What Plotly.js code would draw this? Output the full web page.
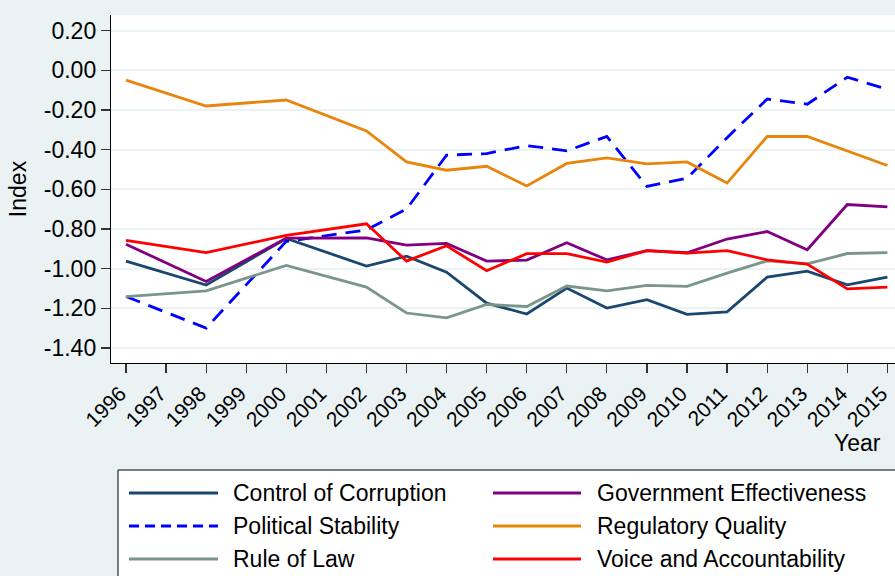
<!DOCTYPE html>
<html>
<head>
<meta charset="utf-8">
<script src="https://cdn.plot.ly/plotly-3.0.1.min.js"></script>
<style>html,body{margin:0;padding:0;background:#eaf2f3;}#chart{width:895px;height:576px;}</style>
</head>
<body>
<div id="chart"></div>
<script>
// ---- data ----
var years = [1996, 1998, 2000, 2002, 2003, 2004, 2005, 2006, 2007, 2008, 2009, 2010, 2011, 2012, 2013, 2014, 2015];
var controlOfCorruption = [-0.962, -1.083, -0.848, -0.987, -0.937, -1.018, -1.174, -1.229, -1.098, -1.199, -1.157, -1.231, -1.218, -1.043, -1.013, -1.082, -1.043];
var governmentEffectiveness = [-0.877, -1.065, -0.846, -0.845, -0.882, -0.873, -0.962, -0.957, -0.870, -0.956, -0.909, -0.920, -0.851, -0.813, -0.905, -0.677, -0.689];
var politicalStability = [-1.141, -1.300, -0.863, -0.805, -0.700, -0.428, -0.420, -0.380, -0.406, -0.334, -0.586, -0.544, -0.340, -0.145, -0.171, -0.035, -0.096];
var regulatoryQuality = [-0.050, -0.180, -0.150, -0.306, -0.462, -0.504, -0.484, -0.583, -0.470, -0.442, -0.472, -0.462, -0.569, -0.334, -0.334, -0.406, -0.480];
var ruleOfLaw = [-1.141, -1.112, -0.984, -1.093, -1.224, -1.248, -1.181, -1.191, -1.088, -1.112, -1.085, -1.090, -1.023, -0.961, -0.976, -0.924, -0.919];
var voiceAndAccountability = [-0.858, -0.919, -0.833, -0.774, -0.962, -0.885, -1.011, -0.925, -0.925, -0.967, -0.909, -0.922, -0.909, -0.956, -0.977, -1.102, -1.093];

var seriesNames = ["Control of Corruption", "Government Effectiveness", "Political Stability", "Regulatory Quality", "Rule of Law", "Voice and Accountability"];
var seriesValues = [controlOfCorruption, governmentEffectiveness, politicalStability, regulatoryQuality, ruleOfLaw, voiceAndAccountability];

var xTickVals = [1996,1997,1998,1999,2000,2001,2002,2003,2004,2005,2006,2007,2008,2009,2010,2011,2012,2013,2014,2015];
var xTickText = ["1996","1997","1998","1999","2000","2001","2002","2003","2004","2005","2006","2007","2008","2009","2010","2011","2012","2013","2014","2015"];
var yTickVals = [0.2, 0, -0.2, -0.4, -0.6, -0.8, -1.0, -1.2, -1.4];
var yTickText = ["0.20", "0.00", "-0.20", "-0.40", "-0.60", "-0.80", "-1.00", "-1.20", "-1.40"];

// ---- styles ----
var colors = ["#1a476f", "#800080", "#0000ff", "#e8850c", "#7a968a", "#ff0000"];
var dashes = ["solid", "solid", "15px,9px", "solid", "solid", "solid"];
var drawOrder = [0, 2, 4, 1, 3, 5];

var FONT = "Liberation Sans, Arial, Helvetica, sans-serif";
var FS = 23;
var W = 895, H = 576, ML = 111, MR = 0, MT = 15, MB = 213;
var PW = W - ML - MR, PH = H - MT - MB;
function px(x) { return (x - ML) / PW; }
function py(y) { return (H - MB - y) / PH; }

var traces = drawOrder.map(function (i) {
  return {
    x: years, y: seriesValues[i], type: "scatter", mode: "lines",
    name: seriesNames[i], showlegend: false,
    line: { color: colors[i], width: 2.8, dash: dashes[i] },
    hoverinfo: "x+y+name"
  };
});

// custom legend (Stata style, long line samples)
var shapes = [{
  type: "rect", xref: "paper", yref: "paper",
  x0: px(118), x1: px(905), y0: py(590), y1: py(470),
  line: { color: "#000", width: 1 }, fillcolor: "#ffffff", layer: "above"
}];
var annotations = [];
var legCols = [{ lx0: 129, lx1: 218, tx: 231 }, { lx0: 493, lx1: 581, tx: 595 }];
var legRows = [493, 526, 559];
seriesNames.forEach(function (name, i) {
  var c = legCols[i % 2], r = legRows[Math.floor(i / 2)];
  shapes.push({
    type: "line", xref: "paper", yref: "paper",
    x0: px(c.lx0), x1: px(c.lx1), y0: py(r), y1: py(r),
    line: { color: colors[i], width: 2.8, dash: dashes[i] === "solid" ? "solid" : "10px,6px" }, layer: "above"
  });
  annotations.push({
    xref: "paper", yref: "paper", x: px(c.tx), y: py(r),
    xanchor: "left", yanchor: "middle", showarrow: false,
    text: name, font: { family: FONT, size: FS, color: "#000" }
  });
});
annotations.push({
  xref: "paper", yref: "paper", x: px(857), y: py(443),
  xanchor: "center", yanchor: "middle", showarrow: false,
  text: "Year", font: { family: FONT, size: FS, color: "#000" }
});

var layout = {
  width: W, height: H,
  margin: { l: ML, r: MR, t: MT, b: MB, pad: 0 },
  paper_bgcolor: "#eaf2f3", plot_bgcolor: "#ffffff",
  font: { family: FONT, size: FS, color: "#000" },
  showlegend: false,
  xaxis: {
    range: [1995.626, 2015.19], tickmode: "array", tickvals: xTickVals, ticktext: xTickText,
    tickangle: -45, ticks: "outside", ticklen: 9, tickwidth: 1.2, tickcolor: "#333",
    ticklabeloverflow: "allow", ticklabelshift: -6,
    showline: true, linecolor: "#000", linewidth: 1.2, showgrid: false, zeroline: false,
    tickfont: { family: FONT, size: 21, color: "#000" }, automargin: false
  },
  yaxis: {
    range: [-1.476, 0.2786], tickmode: "array", tickvals: yTickVals, ticktext: yTickText,
    ticks: "outside", ticklen: 9, tickwidth: 1.2, tickcolor: "#333",
    showline: true, linecolor: "#000", linewidth: 1.2,
    showgrid: true, gridcolor: "#eaf2f3", gridwidth: 2, zeroline: false,
    tickfont: { family: FONT, size: FS, color: "#000" },
    title: { text: "Index", font: { family: FONT, size: FS, color: "#000" }, standoff: 10 },
    automargin: false
  },
  shapes: shapes,
  annotations: annotations
};

Plotly.newPlot("chart", traces, layout, { displayModeBar: false, staticPlot: true });
</script>
</body>
</html>
